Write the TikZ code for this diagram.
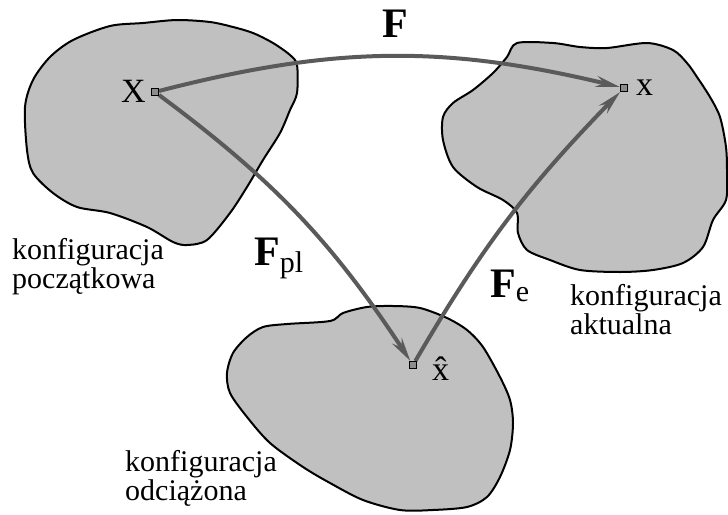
\documentclass[tikz,border=0pt]{standalone}
\usepackage{fontspec}
\setmainfont{Liberation Serif}
\usepackage{xcolor}
\usetikzlibrary{arrows.meta,positioning}
\definecolor{bl}{HTML}{C0C0C0}
\definecolor{ar}{HTML}{5A5A5A}
\definecolor{pg}{HTML}{8C8C8C}
\newcommand{\Fb}[2]{{\fontsize{42}{42}\selectfont\bfseries F}\raisebox{-#2}{\fontsize{30}{30}\selectfont #1}}

\begin{document}
\begin{tikzpicture}[x=1pt,y=-1pt,
  blob/.style={fill=bl, draw=black, line width=2pt},
  arr/.style={draw=ar, line width=4pt, -{Stealth[length=24pt,width=11pt]}},
  pnt/.style={draw=black, fill=pg, line width=1pt, minimum size=7pt, inner sep=0pt},
  lbl/.style={inner sep=0pt, font=\fontsize{34}{34}\selectfont},
  cfg/.style={inner sep=0pt, align=left, font=\fontsize{30}{29}\selectfont}]
  \useasboundingbox (0,0) rectangle (728,514);
  % configurations
  \draw[blob] plot[smooth cycle] coordinates {(143,23) (177,20) (210,22) (233,27) (253,33)
    (273,43) (290,55) (297,65) (297,93) (290,110) (280,133) (263,160) (247,187) (230,213)
    (207,240) (187,245) (173,242) (147,227) (110,213) (77,207) (53,193) (33,173) (27,150)
    (25,107) (33,80) (50,57) (73,40) (110,26)};
  \draw[blob] plot[smooth cycle] coordinates {(517,43) (553,43) (580,47) (607,48) (647,43)
    (673,50) (687,63) (697,77) (710,97) (720,117) (726,147) (727,173) (726,200) (713,220)
    (703,247) (683,263) (653,270) (620,272) (580,270) (550,260) (527,250) (518,233)
    (517,213) (503,200) (477,187) (453,167) (443,140) (443,117) (453,103) (473,90)
    (493,73) (507,57)};
  \draw[blob] plot[smooth cycle] coordinates {(330,321) (343,313) (367,307) (393,306)
    (420,308) (447,318) (467,330) (483,347) (500,377) (510,400) (513,423) (510,450)
    (500,477) (487,497) (467,507) (433,510) (400,510) (363,500) (330,483) (303,467)
    (270,443) (247,417) (230,393) (227,373) (233,353) (247,337) (263,327) (287,324)};
  \node[cfg, anchor=base west] (c0) at (12,288) {konfiguracja\\początkowa};
  \node[cfg, anchor=base west] (ct) at (570,334) {konfiguracja\\aktualna};
  \node[cfg, anchor=base west] (cu) at (125,500) {konfiguracja\\odciążona};
  % points
  \node[pnt] (X) at (155,92) {};
  \node[pnt] (x) at (624,88) {};
  \node[pnt] (xh) at (413,365) {};
  \draw[arr] (X) to[bend left=14] (x);
  \draw[arr] (X) to[bend left=10] (xh);
  \draw[arr] (xh) to[bend left=7] (x);
  \node[pnt] at (X) {};
  \node[pnt] at (x) {};
  \node[pnt] at (xh) {};
  \node[lbl, left=5pt of X, yshift=1pt] (lX) {X};
  \node[lbl, right=8pt of x] (lx) {x};
  \node[lbl, right=15pt of xh, yshift=-4pt] (lxh) {\^x};
  % gradients
  \node[anchor=base, inner sep=0pt] (lF) at (395,37) {\Fb{}{0pt}};
  \node[anchor=base west, inner sep=0pt] (lFpl) at (254,265) {\Fb{pl}{7pt}};
  \node[anchor=base west, inner sep=0pt] (lFe) at (490,297) {\Fb{e}{4pt}};
\end{tikzpicture}
\end{document}
